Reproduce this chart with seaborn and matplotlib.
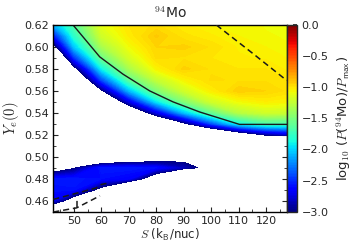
import matplotlib
matplotlib.use('Agg')
import matplotlib.pyplot as plt
import numpy as np
import seaborn as sns
from matplotlib.ticker import MultipleLocator

# grid: entropy S (k_B/nuc) and initial Ye
entropy = [42.5, 50, 60, 70, 80, 90, 100, 110, 120, 127.5]
ye_grid = [0.45, 0.46, 0.47, 0.48, 0.49, 0.50, 0.51, 0.52, 0.53,
           0.54, 0.55, 0.56, 0.57, 0.58, 0.59, 0.60, 0.61, 0.62]

# log10(P(94Mo)/Pmax) along Ye for each entropy column (below -3 -> blank)
logp_s42 = [-3.7, -2.70, -2.58, -2.57, -3.29, -3.6, -3.9, -4.1, -4.3, -4.4,
            -4.4, -4.3, -4.2, -4.0, -3.9, -3.18, -2.58, -2.12]
logp_s50 = [-3.8, -3.26, -2.58, -2.56, -3.03, -3.6, -4.0, -4.3, -4.5, -4.5,
            -4.3, -4.0, -3.7, -3.15, -2.50, -2.05, -1.80, -1.65]
logp_s60 = [-4.2, -3.8, -3.12, -2.60, -2.55, -3.73, -4.2, -4.5, -4.4, -4.1,
            -3.7, -3.06, -2.42, -1.92, -1.57, -1.35, -1.20, -1.12]
logp_s70 = [-4.5, -4.3, -4.05, -2.65, -2.55, -3.45, -4.1, -4.5, -4.4, -3.56,
            -2.76, -2.09, -1.62, -1.35, -1.18, -1.08, -1.02, -1.00]
logp_s80 = [-4.8, -4.5, -4.1, -3.35, -2.60, -3.33, -4.0, -4.4, -3.75, -2.75,
            -1.97, -1.50, -1.25, -1.05, -0.97, -0.95, -0.92, -0.97]
logp_s90 = [-5.0, -4.8, -4.6, -4.35, -2.85, -3.14, -3.8, -4.0, -3.10, -2.08,
            -1.50, -1.20, -1.05, -0.94, -0.98, -0.94, -0.99, -1.02]
logp_s100 = [-5.0, -5.0, -4.8, -4.5, -3.15, -4.0, -4.2, -3.86, -2.43, -1.60,
             -1.20, -1.03, -0.97, -0.98, -1.00, -0.98, -1.02, -1.05]
logp_s110 = [-5.0, -5.0, -5.0, -4.8, -4.3, -4.4, -4.0, -3.37, -1.90, -1.30,
             -1.08, -0.93, -0.98, -1.00, -1.02, -1.03, -1.05, -1.05]
logp_s120 = [-5.0, -5.0, -5.0, -5.0, -4.8, -4.4, -3.6, -2.97, -1.70, -1.20,
             -1.03, -0.95, -0.98, -1.00, -1.03, -1.05, -1.07, -1.08]
logp_s128 = [-5.0, -5.0, -5.0, -5.0, -5.0, -4.8, -4.44, -2.84, -1.70, -1.22,
             -1.05, -0.98, -1.00, -1.03, -1.05, -1.07, -1.08, -1.10]

# overlaid contour lines
solid_s = [49.7, 59.4, 67.9, 77.6, 86.1, 95.8, 110.3, 127.5]
solid_ye = [0.620, 0.591, 0.5752, 0.560, 0.550, 0.5408, 0.5295, 0.5295]
dash_top_s = [101.9, 115.2, 127.5]
dash_top_ye = [0.620, 0.594, 0.5695]
dash_a_s = [42.5, 52.0, 58.0, 60.0, 62.0]
dash_a_ye = [0.4612, 0.4675, 0.4715, 0.4748, 0.4758]
dash_b_s = [42.5, 51.0, 59.5]
dash_b_ye = [0.4497, 0.4535, 0.4645]
dash_c_s = [51.0, 51.0]
dash_c_ye = [0.4545, 0.4605]

sns.set_theme(style='ticks')
plt.rcParams['font.family'] = ['DejaVu Sans']
plt.rcParams['mathtext.fontset'] = 'cm'
plt.rcParams['xtick.direction'] = 'in'
plt.rcParams['ytick.direction'] = 'in'

Z = np.column_stack([logp_s42, logp_s50, logp_s60, logp_s70, logp_s80,
                     logp_s90, logp_s100, logp_s110, logp_s120, logp_s128])

fig = plt.figure(figsize=(3.57, 2.5), dpi=100)
ax = fig.add_axes([0.1493, 0.1532, 0.6538, 0.7468])
cax = fig.add_axes([0.8031, 0.1532, 0.028, 0.7468])

cf = ax.contourf(entropy, ye_grid, Z, levels=np.linspace(-3, 0, 121),
                 cmap='jet', vmin=-3, vmax=0, antialiased=False)

sns.lineplot(x=solid_s, y=solid_ye, sort=False, estimator=None, color='k', lw=1, ax=ax)
for xs, ys in [(dash_top_s, dash_top_ye), (dash_a_s, dash_a_ye),
               (dash_b_s, dash_b_ye), (dash_c_s, dash_c_ye)]:
    ax.plot(xs, ys, color='k', lw=1.1, ls='--', dashes=(4, 2.5), zorder=5)

ax.set_xlim(42.5, 127.5)
ax.set_ylim(0.45, 0.62)
ax.xaxis.set_major_locator(MultipleLocator(10))
ax.xaxis.set_minor_locator(MultipleLocator(5))
ax.yaxis.set_major_locator(MultipleLocator(0.02))
ax.yaxis.set_minor_locator(MultipleLocator(0.01))
ax.tick_params(which='both', top=True, right=True, direction='in', labelsize=8, pad=3)
ax.tick_params(which='major', length=3.5, width=0.8)
ax.tick_params(which='minor', length=2, width=0.6)
for sp in ax.spines.values():
    sp.set_linewidth(1)
    sp.set_color('black')

ax.set_title(r'$^{\mathsf{94}}$Mo', fontsize=10, pad=5)
ax.set_xlabel(r'$S$ (k$_\mathsf{B}$/nuc)', fontsize=8.5, labelpad=1)
ax.set_ylabel(r'$Y_e(0)$', fontsize=10.5, labelpad=2)

cb = fig.colorbar(cf, cax=cax, ticks=[-3.0, -2.5, -2.0, -1.5, -1.0, -0.5, 0.0])
cb.ax.tick_params(labelsize=8, direction='in', length=3)
cb.outline.set_linewidth(1)
cb.set_label(r'log$_\mathsf{10}$ ($P$($^\mathsf{94}$Mo)/$P_\mathsf{max}$)',
             fontsize=9.5, labelpad=4)

fig.savefig('out.png', dpi=100)
